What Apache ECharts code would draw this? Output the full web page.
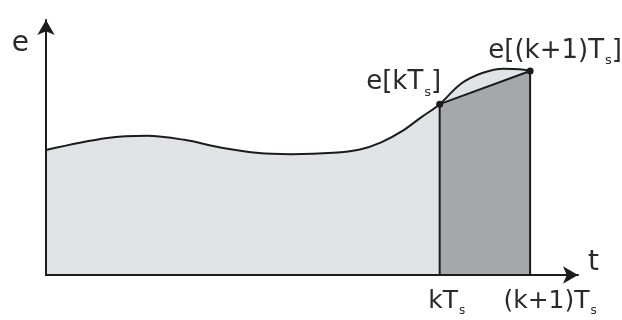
<!DOCTYPE html>
<html>
<head>
<meta charset="utf-8">
<script src="https://cdn.jsdelivr.net/npm/echarts@6/dist/echarts.min.js"></script>
<style>
  html, body { margin: 0; padding: 0; background: #fff; }
  #chart { width: 622px; height: 320px; }
</style>
</head>
<body>
<div id="chart"></div>
<script>
// Continuous error signal e(t), sampled along the time axis
const curveT = [0, 11.5, 19, 26, 33, 40, 46, 54, 59, 63, 67, 70.5, 74, 78, 82, 86, 89, 91];
const curveE = [49, 53.7, 54.6, 53, 49.9, 47.8, 47.4, 47.9, 49.2, 52, 56.5, 61.8, 67, 75, 79.2, 80.9, 80.7, 80];

// Two consecutive sampling instants and the sampled values
const sampleT = [74, 91];
const sampleE = [67, 80];
const tickLabels = ['{p0| }kT{s|s}', '{p1| }(k+1)T{s|s}'];
const pointLabels = ['e[kT{s|s}]', 'e[(k+1)T{s|s}]'];

const axisNameT = 't';
const axisNameE = 'e';

const FONT = 'DejaVu Sans';
const INK = '#1c1c1c';
const TEXT = '#2a2a2a';

const curveData = curveT.map((t, i) => [t, curveE[i]]);
const chordData = sampleT.map((t, i) => [t, sampleE[i]]);

const chart = echarts.init(document.getElementById('chart'));

const sub = (size) => ({ fontSize: size, fontFamily: FONT, color: TEXT, verticalAlign: 'bottom', padding: [0, 0, -3, 1] });

const edgeSeries = sampleT.map((t, i) => ({
  type: 'line',
  data: [[t, 0], [t, sampleE[i]]],
  symbol: 'none',
  lineStyle: { color: INK, width: 2 },
  z: 4,
  silent: true
}));

chart.setOption({
  animation: false,
  grid: { left: 46, right: 44, top: 20, bottom: 45 },
  xAxis: {
    type: 'value',
    min: 0,
    max: 100,
    z: 10,
    name: axisNameT,
    nameLocation: 'end',
    nameGap: 10,
    nameTextStyle: { fontFamily: FONT, fontSize: 28, color: TEXT, verticalAlign: 'bottom', lineHeight: 24 },
    axisLine: { show: true, lineStyle: { color: INK, width: 2 }, symbol: ['none', 'arrow'], symbolSize: [13, 15] },
    axisTick: { show: false },
    splitLine: { show: false },
    axisLabel: {
      customValues: sampleT,
      margin: 14,
      fontFamily: FONT,
      fontSize: 25,
      color: TEXT,
      formatter: (v) => tickLabels[sampleT.indexOf(v)],
      rich: {
        s: sub(12),
        p0: { width: 14, fontSize: 25, fontFamily: FONT },
        p1: { width: 40, fontSize: 25, fontFamily: FONT }
      }
    }
  },
  yAxis: {
    type: 'value',
    min: 0,
    max: 100,
    z: 10,
    name: axisNameE,
    nameLocation: 'end',
    nameGap: -38,
    nameTextStyle: { fontFamily: FONT, fontSize: 28, color: TEXT, align: 'right', padding: [0, 17, 0, 0] },
    axisLine: { show: true, lineStyle: { color: INK, width: 2 }, symbol: ['none', 'arrow'], symbolSize: [13, 15] },
    axisTick: { show: false },
    splitLine: { show: false },
    axisLabel: { show: false }
  },
  series: [
    {
      type: 'line',
      data: curveData,
      smooth: 0.35,
      symbol: 'none',
      lineStyle: { color: INK, width: 2 },
      areaStyle: { color: '#e1e3e6', opacity: 1 },
      z: 2,
      silent: true
    },
    {
      type: 'line',
      data: chordData,
      symbol: 'none',
      lineStyle: { color: INK, width: 2 },
      areaStyle: { color: '#a5a7aa', opacity: 1 },
      z: 3,
      silent: true
    },
    ...edgeSeries,
    {
      type: 'scatter',
      data: chordData.map((d, i) => ({
        value: d,
        label: {
          show: true,
          position: 'top',
          offset: i === 0 ? [-36, 0] : [25, 2],
          formatter: pointLabels[i],
          fontFamily: FONT,
          fontSize: 26,
          color: TEXT,
          opacity: 1,
          rich: { s: sub(13) }
        }
      })),
      symbol: 'circle',
      symbolSize: 7,
      itemStyle: { color: INK, opacity: 1 },
      z: 5,
      silent: true
    }
  ]
});
</script>
</body>
</html>
